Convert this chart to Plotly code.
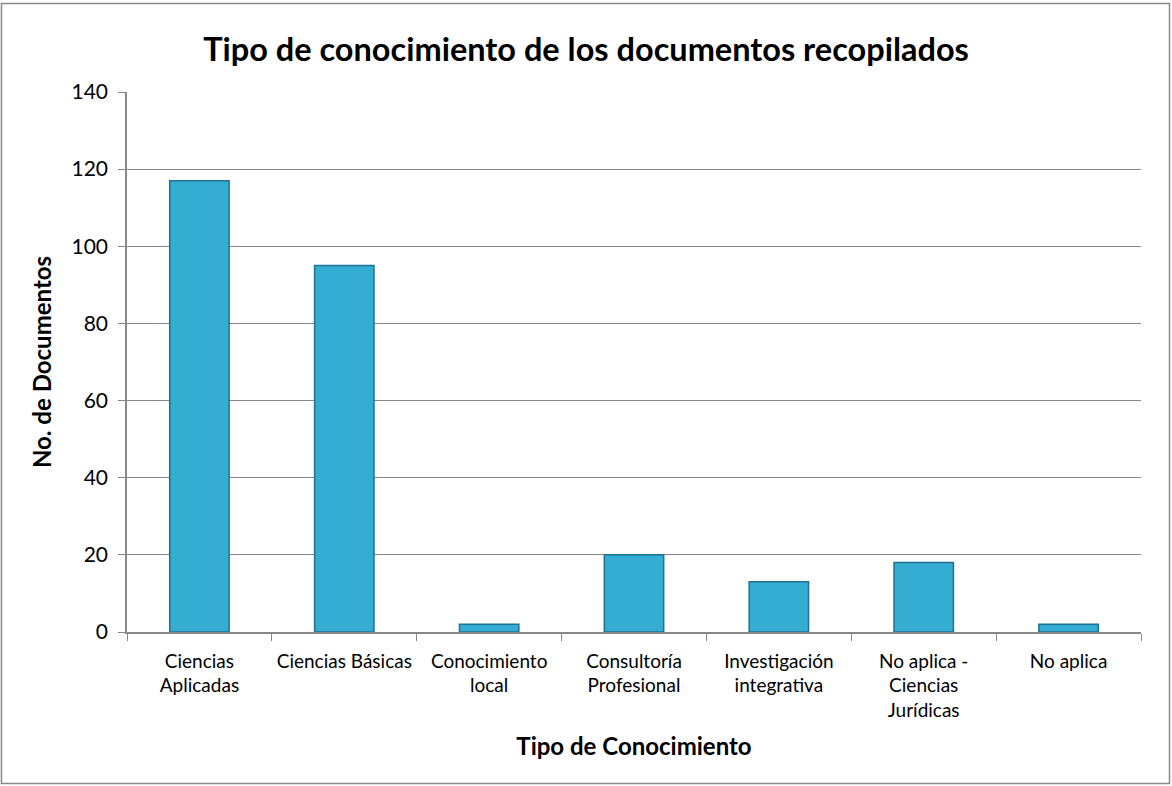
import plotly.graph_objects as go

categories = [
    "Ciencias<br>Aplicadas",
    "Ciencias Básicas",
    "Conocimiento<br>local",
    "Consultoría<br>Profesional",
    "Investigación<br>integrativa",
    "No aplica -<br>Ciencias<br>Jurídicas",
    "No aplica",
]
documentos = [117, 95, 2, 20, 13, 18, 2]
y_ticks = [0, 20, 40, 60, 80, 100, 120, 140]

FONT = "Lato, Carlito, Calibri, sans-serif"
GRID = "#878787"

fig = go.Figure()
fig.add_trace(
    go.Bar(
        x=categories,
        y=documentos,
        width=0.41,
        marker={"color": "#35ADD2", "line": {"color": "#1D7391", "width": 1.5}},
        showlegend=False,
    )
)

fig.update_layout(
    width=1172,
    height=786,
    paper_bgcolor="white",
    plot_bgcolor="white",
    margin={"l": 127, "r": 31, "t": 92, "b": 154},
    font={"family": FONT, "color": "black", "size": 19},
    title={
        "text": "<b>Tipo de conocimiento de los documentos recopilados</b>",
        "x": 0.5,
        "xanchor": "center",
        "y": 0.937,
        "yanchor": "middle",
        "font": {"size": 32.5, "family": FONT},
    },
    shapes=[
        {
            "type": "rect",
            "xref": "paper",
            "yref": "paper",
            "x0": -0.1238,
            "x1": 1.0281,
            "y0": -0.2806,
            "y1": 1.1639,
            "line": {"color": "#888888", "width": 1.5},
            "layer": "below",
        }
    ],
)

fig.update_xaxes(
    tickson="boundaries",
    ticks="outside",
    ticklen=7,
    tickcolor=GRID,
    showline=True,
    linecolor=GRID,
    linewidth=1.5,
    showgrid=False,
    tickfont={"size": 19},
    ticklabelstandoff=11,
    title={"text": "<b>Tipo de Conocimiento</b>", "font": {"size": 24}, "standoff": 18},
)
fig.update_yaxes(
    range=[0, 140],
    tickvals=y_ticks,
    ticks="outside",
    ticklen=7,
    tickcolor=GRID,
    showline=True,
    linecolor=GRID,
    linewidth=1.5,
    gridcolor=GRID,
    gridwidth=1.2,
    zeroline=False,
    tickfont={"size": 21},
    ticklabelstandoff=6,
    title={"text": "<b>No. de Documentos</b>", "font": {"size": 24}, "standoff": 13},
)

fig.write_html(
    "out.html",
    config={"displayModeBar": False},
    post_script="document.body.style.margin='0';document.body.style.overflow='hidden';",
)
